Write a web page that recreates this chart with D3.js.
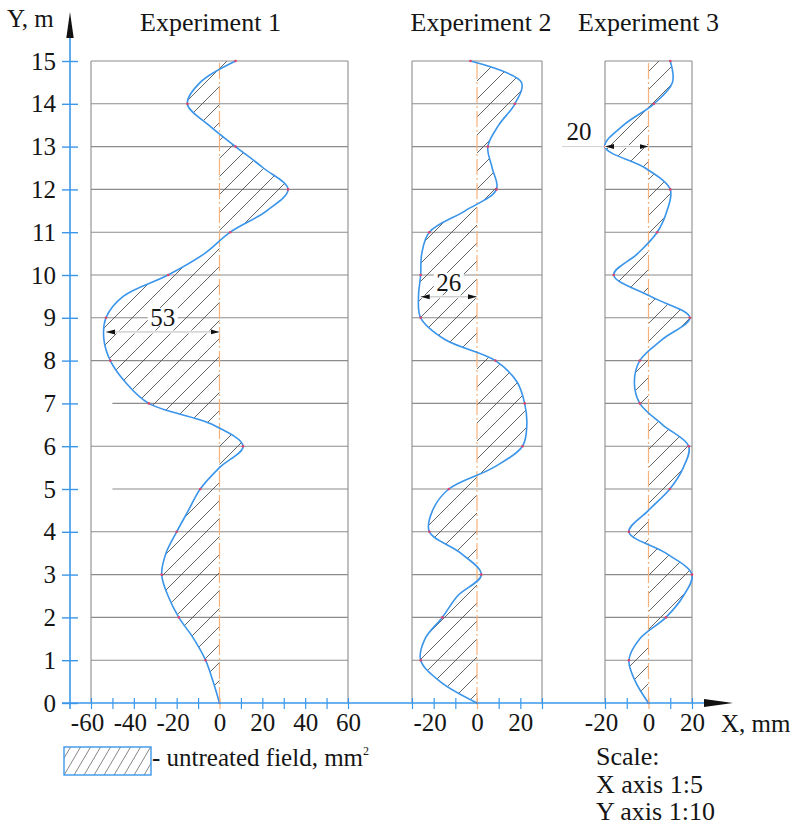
<!DOCTYPE html>
<html><head><meta charset="utf-8">
<script src="https://cdn.jsdelivr.net/npm/d3@7"></script>
<style>
body{margin:0;background:#fff}
svg{display:block}
text{font-family:"Liberation Serif","Times New Roman",serif;fill:#151515}
</style>
</head><body>
<svg id="chart" width="795" height="827"></svg>
<script>
// ---------- data ----------
const yLevels = [0,0.5,1,1.5,2,2.5,3,3.5,4,4.5,5,5.5,6,6.5,7,7.5,8,8.5,9,9.5,10,10.5,11,11.5,12,12.5,13,13.5,14,14.5,15];
const exp1 = [0,-3,-6.5,-12,-19,-24,-27,-25,-20,-14.5,-9,0,11,-3,-33,-44,-51,-54,-53,-45,-24,-7,5,22,32,20.5,7.5,-5,-15,-9,7.5];
const exp2 = [0,-17,-26,-24,-16,-9,2,-7.5,-22,-20.5,-13,7.5,21,23,22,18.5,8.5,-15,-26,-27,-26,-25.5,-22,-5.5,9,7,5,10,17.5,20.5,-3];
const exp3 = [0,-6,-9,-4,8,16,20,8,-9,0,9.8,16,18.5,6.5,-4,-6.5,-4,6.5,19,1,-16,-5,4,8.5,10,-1.5,-20,-11.5,2.5,11,10];
const panelTitles = ["Experiment 1","Experiment 2","Experiment 3"];
const panelDomains = [[-60,60],[-30,30],[-20,20]];
const panelTicks = [[-60,-50,-40,-30,-20,-10,0,10,20,30,40,50,60],[-30,-20,-10,0,10,20,30],[-20,-10,0,10,20]];
const panelTickLabels = [[-60,-40,-20,0,20,40,60],[-20,0,20],[-20,0,20]];
const yTicks = [0,1,2,3,4,5,6,7,8,9,10,11,12,13,14,15];
const gridLevels = [1,2,3,4,5,6,7,8,9,10,11,12,13,14,15];
const shortGridLevelsPanel1 = [5,7];   // these start at -50 in panel 1
const dimensions = [
  {panel:0, y:8.67, value:-53, label:"53"},
  {panel:1, y:9.49, value:-26, label:"26"},
  {panel:2, y:13,   value:-20, label:"20"}
];
const legendLabel = "- untreated field, mm";
const scaleLines = ["Scale:","X axis 1:5","Y axis 1:10"];
const series = [exp1, exp2, exp3];

// ---------- layout ----------
const svg = d3.select("#chart");
const y = d3.scaleLinear().domain([0,15]).range([703,61]);
const panelRanges = [[91,348],[412,542],[605,692]];
const xs = panelDomains.map((d,i)=>d3.scaleLinear().domain(d).range(panelRanges[i]));
const blue = "#3b97ea", curveBlue = "#3a95ea", grid = "#8c8c8c", orange = "#f6b27a";
const FS = 25, FT = 26;

const defs = svg.append("defs");
const pat = defs.append("pattern").attr("id","hatch").attr("patternUnits","userSpaceOnUse")
  .attr("width",18).attr("height",18);
pat.append("path").attr("d","M0,18 L18,0 M-3,3 L3,-3 M15,21 L21,15")
  .attr("stroke","#555").attr("stroke-width",0.9).attr("fill","none");
const pat2 = defs.append("pattern").attr("id","hatchLegend").attr("patternUnits","userSpaceOnUse")
  .attr("width",10).attr("height",17);
pat2.append("path").attr("d","M0,17 L10,0 M-2,3.4 L2,-3.4 M8,20.4 L12,13.6")
  .attr("stroke","#666").attr("stroke-width",0.8).attr("fill","none");
defs.append("marker").attr("id","arr").attr("markerUnits","userSpaceOnUse")
  .attr("markerWidth",10).attr("markerHeight",6).attr("refX",9).attr("refY",3)
  .attr("orient","auto-start-reverse")
  .append("path").attr("d","M0,0.5 L9,3 L0,5.5 Z").attr("fill","#111");

// ---------- panels ----------
panelTitles.forEach((title,i)=>{
  const x = xs[i];
  const g = svg.append("g");
  const [xl,xr] = x.range();
  g.selectAll("line.grid").data(gridLevels).join("line")
    .attr("x1",d=> (i===0 && shortGridLevelsPanel1.includes(d)) ? x(-50) : xl)
    .attr("x2",xr).attr("y1",d=>y(d)).attr("y2",d=>y(d))
    .attr("stroke",grid).attr("stroke-width",1.1);
  g.selectAll("line.border").data(x.domain()).join("line")
    .attr("x1",d=>x(d)).attr("x2",d=>x(d)).attr("y1",y(0)).attr("y2",y(15))
    .attr("stroke",grid).attr("stroke-width",1.1);
  const pts = yLevels.map((l,k)=>[l, series[i][k]]);
  const curve = d3.curveCatmullRom.alpha(0.5);
  const area = d3.area().y(d=>y(d[0])).x0(x(0)).x1(d=>x(d[1])).curve(curve);
  g.append("path").attr("d",area(pts)).attr("fill","url(#hatch)");
  g.append("line").attr("x1",x(0)).attr("x2",x(0)).attr("y1",y(0)).attr("y2",y(15))
    .attr("stroke",orange).attr("stroke-width",1.2).attr("stroke-dasharray","16,3,2,3");
  const line = d3.line().y(d=>y(d[0])).x(d=>x(d[1])).curve(curve);
  g.append("path").attr("d",line(pts)).attr("fill","none").attr("stroke",curveBlue).attr("stroke-width",1.6);
  g.selectAll("circle").data(pts.filter(d=>d[0]%1===0)).join("circle")
    .attr("cx",d=>x(d[1])).attr("cy",d=>y(d[0])).attr("r",1.3).attr("fill","#e0406a");
  svg.append("text").attr("x",(xl+xr)/2 + [-9,4,0][i]).attr("y",31).attr("text-anchor","middle")
    .attr("font-size",FT).text(title);
  const ax = d3.axisBottom(x).tickValues(panelTicks[i])
    .tickFormat(d=> panelTickLabels[i].includes(d) ? String(d) : "")
    .tickSize(6).tickPadding(5);
  const ag = svg.append("g").attr("transform",`translate(0,${y(0)})`).call(ax);
  ag.select(".domain").remove();
  ag.selectAll(".tick line").attr("y1",-5).attr("stroke",d=>d===0?orange:blue).attr("stroke-width",1.2);
  ag.selectAll(".tick text").attr("font-size",FS).attr("font-family","Liberation Serif, serif")
    .attr("fill","#151515").attr("dx",d=>d<0?"-4":"0").attr("y",10);
});

// ---------- axes ----------
svg.append("line").attr("x1",62).attr("x2",706).attr("y1",y(0)).attr("y2",y(0))
  .attr("stroke",blue).attr("stroke-width",1.6);
svg.append("line").attr("x1",70).attr("x2",70).attr("y1",y(0)+6).attr("y2",36)
  .attr("stroke",blue).attr("stroke-width",1.6);
svg.append("path").attr("d","M70,12 L66.3,38 L73.7,38 Z").attr("fill","#111");
svg.append("path").attr("d","M733,703 L704,699 L704,707 Z").attr("fill","#111");
const yAxis = d3.axisLeft(y).tickValues(yTicks).tickSize(8).tickPadding(6);
const yg = svg.append("g").attr("transform","translate(70,0)").call(yAxis);
yg.select(".domain").remove();
yg.selectAll(".tick line").attr("x1",8).attr("stroke",blue).attr("stroke-width",1.4);
yg.selectAll(".tick text").attr("font-size",FS).attr("font-family","Liberation Serif, serif").attr("fill","#151515");
svg.append("text").attr("x",7).attr("y",27).attr("font-size",FS).text("Y, m");
svg.append("text").attr("x",721).attr("y",732).attr("font-size",FS).text("X, mm");

// ---------- dimensions ----------
dimensions.forEach(d=>{
  const x = xs[d.panel];
  const yy = y(d.y), x1 = x(d.value), x2 = x(0);
  const g = svg.append("g");
  if (d.panel===2) {
    g.append("line").attr("x1",562).attr("x2",x1).attr("y1",yy).attr("y2",yy)
      .attr("stroke","#d0d0d0").attr("stroke-width",1);
    g.append("text").attr("x",579).attr("y",yy-7).attr("text-anchor","middle").attr("font-size",FS).text(d.label);
  } else {
    const cx = (x1+x2)/2;
    g.append("rect").attr("x",cx-15).attr("y",yy-24).attr("width",30).attr("height",18).attr("fill","#fff");
    g.append("text").attr("x",cx).attr("y",yy-6).attr("text-anchor","middle").attr("font-size",FS).text(d.label);
  }
  g.append("line").attr("x1",x1).attr("x2",x2).attr("y1",yy).attr("y2",yy)
    .attr("stroke","#fff").attr("stroke-width",3);
  g.append("line").attr("x1",x1).attr("x2",x2).attr("y1",yy).attr("y2",yy)
    .attr("stroke","#aaa").attr("stroke-width",0.8)
    .attr("marker-start","url(#arr)").attr("marker-end","url(#arr)");
});

// ---------- legend ----------
svg.append("rect").attr("x",64).attr("y",747).attr("width",87).attr("height",28)
  .attr("fill","url(#hatchLegend)").attr("stroke",blue).attr("stroke-width",1.4);
const lt = svg.append("text").attr("x",152).attr("y",766).attr("font-size",FS).text(legendLabel);
lt.append("tspan").attr("font-size",12).attr("dy",-11).text("2");
svg.selectAll("text.scale").data(scaleLines).join("text").attr("class","scale")
  .attr("x",596).attr("y",(d,k)=>765+k*27.5).attr("font-size",FT).text(d=>d);
</script>
</body></html>
